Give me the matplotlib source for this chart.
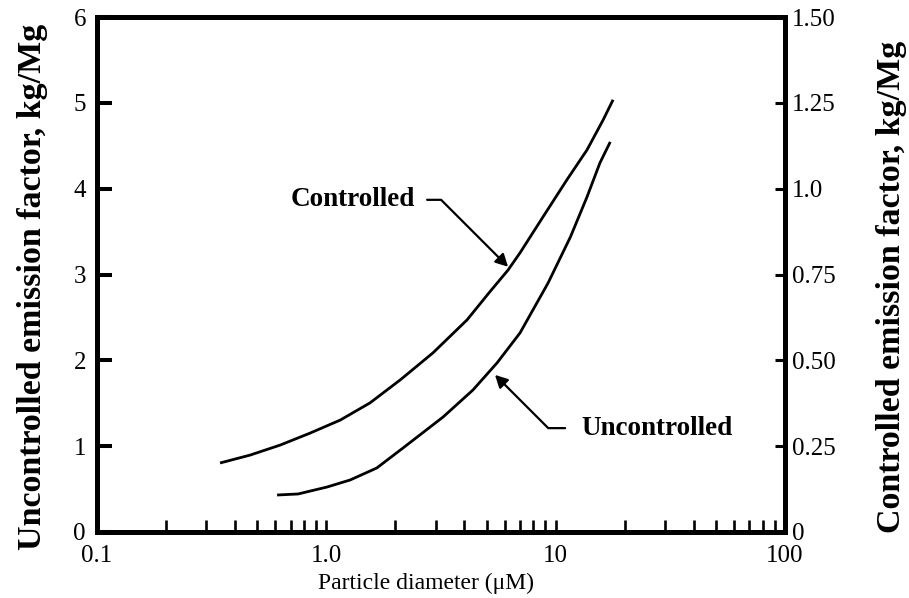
import matplotlib
matplotlib.use("Agg")
import matplotlib.pyplot as plt
from matplotlib.ticker import FixedLocator, LogLocator, NullFormatter

# data (particle diameter in um)
# controlled curve -> right axis, uncontrolled curve -> left axis
ctrl_x = [0.344, 0.465, 0.628, 0.849, 1.15, 1.55, 2.10, 2.92, 4.11, 5.17,
          6.20, 6.99, 8.81, 11.2, 13.7, 16.1, 17.8]
ctrl_y = [0.201, 0.224, 0.253, 0.288, 0.326, 0.376, 0.443, 0.522, 0.618, 0.700,
          0.763, 0.813, 0.918, 1.026, 1.113, 1.200, 1.259]

unc_x = [0.610, 0.753, 1.007, 1.27, 1.66, 2.16, 3.23, 4.36, 5.55, 6.99,
         9.27, 11.6, 13.7, 15.6, 17.3]
unc_y = [0.431, 0.443, 0.524, 0.606, 0.746, 0.979, 1.340, 1.655, 1.970, 2.319,
         2.902, 3.438, 3.904, 4.301, 4.545]

x_ticks = [0.1, 1.0, 10, 100]
x_labels = ["0.1", "1.0", "10", "100"]
left_ticks = [0, 1, 2, 3, 4, 5, 6]
right_ticks = [0, 0.25, 0.5, 0.75, 1.0, 1.25, 1.5]
right_labels = ["0", "0.25", "0.50", "0.75", "1.0", "1.25", "1.50"]

plt.rcParams["font.family"] = ["Liberation Serif", "DejaVu Serif"]

fig = plt.figure(figsize=(9.09, 5.98), dpi=100)
ax = fig.add_axes([97 / 909, 66 / 598, 688 / 909, 515 / 598])
ax2 = ax.twinx()

ax.plot(unc_x, unc_y, color="black", lw=2.0, solid_capstyle="butt")
ax2.plot(ctrl_x, ctrl_y, color="black", lw=2.0, solid_capstyle="butt")

ax.set_xscale("log")
ax.set_xlim(0.1, 100)
ax.set_ylim(0, 6)
ax2.set_ylim(0, 1.5)

ax.xaxis.set_major_locator(FixedLocator(x_ticks))
ax.set_xticklabels(x_labels)
ax.xaxis.set_minor_locator(LogLocator(base=10, subs=range(2, 10)))
ax.xaxis.set_minor_formatter(NullFormatter())
ax.set_yticks(left_ticks)
ax2.set_yticks(right_ticks)
ax2.set_yticklabels(right_labels)

for a in (ax, ax2):
    for s in a.spines.values():
        s.set_linewidth(3.6)
ax.tick_params(axis="x", which="both", direction="in", length=8.6, width=1.9,
               labelsize=18, pad=9)
ax.tick_params(axis="y", direction="in", length=10.8, width=2.9, labelsize=18, pad=8)
ax2.tick_params(axis="y", direction="in", length=7.2, width=2.2, labelsize=18, pad=5)

ax.set_xlabel("Particle diameter (\u03bcM)", fontsize=17, va="center")
ax.xaxis.set_label_coords(0.478, -0.099)
ax.set_ylabel("Uncontrolled emission factor, kg/Mg", fontsize=24.5,
              fontweight="bold", va="center")
ax.yaxis.set_label_coords(-0.094, 0.476)
ax2.set_ylabel("Controlled emission factor, kg/Mg", fontsize=24.5,
               fontweight="bold", rotation=90, va="center")
ax2.yaxis.set_label_coords(1.155, 0.476)

head = "-|>,head_length=0.38,head_width=0.2"
ax.annotate("Controlled", xy=(6.2, 3.09), xytext=(2.44, 3.87),
            ha="right", va="center", fontsize=19.5, fontweight="bold",
            arrowprops=dict(arrowstyle=head, color="black", lw=1.6,
                            relpos=(1, 0.5), shrinkA=8.6, shrinkB=0, patchA=None,
                            connectionstyle="angle,angleA=0,angleB=135,rad=0"))
ax.annotate("Uncontrolled", xy=(5.44, 1.83), xytext=(13.0, 1.21),
            ha="left", va="center", fontsize=19.5, fontweight="bold",
            arrowprops=dict(arrowstyle=head, color="black", lw=1.6,
                            relpos=(0, 0.5), shrinkA=12, shrinkB=0, patchA=None,
                            connectionstyle="angle,angleA=0,angleB=135,rad=0"))

fig.savefig("out.png", dpi=100)
